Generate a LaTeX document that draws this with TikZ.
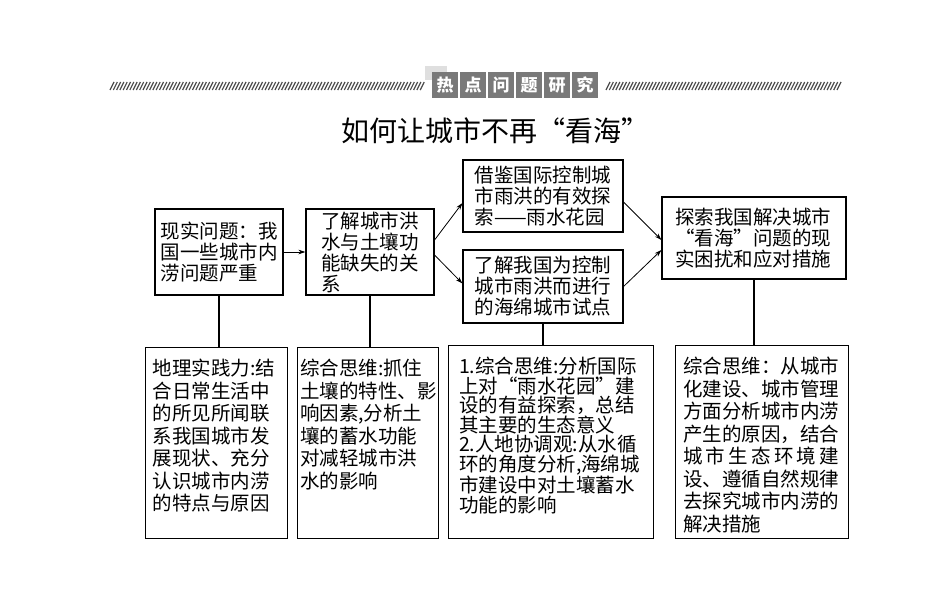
\documentclass[tikz,border=0pt]{standalone}
\usepackage{fontspec}
\newfontfamily\cjk{Noto Sans CJK SC}
\usetikzlibrary{arrows.meta}

\begin{document}
\begin{tikzpicture}[x=1pt, y=-1pt,
    box/.style={draw, line width=1.1pt, align=left, inner sep=0pt,
      font=\cjk\fontsize{19.5}{21}\selectfont},
    detail/.style={box, anchor=north west, inner ysep=4pt,
      text height=24pt, text depth=#1},
    arr/.style={-{Stealth[length=7pt,width=4.5pt]}, line width=0.8pt},
    hatch/.style={gray!60!black, line width=1.2pt},
    tag/.style={fill=gray!95!black, text=white, minimum size=26pt,
      inner sep=0pt, font=\cjk\bfseries\fontsize{17}{17}\selectfont}]
  \useasboundingbox (0,0) rectangle (950,594);

  % header band
  \foreach \i in {0,...,94}
    \draw[hatch] (110+3.3*\i,90) -- ++(4,-8);
  \foreach \i in {0,...,70}
    \draw[hatch] (606+3.3*\i,90) -- ++(4,-8);
  \fill[gray!25] (425,66) rectangle (447,80);
  \foreach \c [count=\i] in {热,点,问,题,研,究}
    \node[tag] (tag\i) at (445+28*\i-28,85) {\c};
  \node[font=\cjk\fontsize{28}{32}\selectfont] (title) at (495,131)
    {如何让城市不再“看海”};

  % top row
  \node[box, minimum width=128pt, minimum height=86pt, text width=117pt]
    (issue) at (219,252) {现实问题：我\\国一些城市内\\涝问题严重};
  \node[box, minimum width=128pt, minimum height=86pt, text width=98pt]
    (soil) at (370,252) {了解城市洪\\水与土壤功\\能缺失的关\\系};
  \node[box, minimum width=160pt, minimum height=72pt, text width=137pt]
    (garden) at (543,196) {借鉴国际控制城\\市雨洪的有效探\\索——雨水花园};
  \node[box, minimum width=160pt, minimum height=73pt, text width=137pt]
    (sponge) at (543,286.5) {了解我国为控制\\城市雨洪而进行\\的海绵城市试点};
  \node[box, minimum width=184pt, minimum height=82pt, text width=158pt]
    (measure) at (754,238) {探索我国解决城市\\“看海”问题的现\\实困扰和应对措施};

  % bottom row
  \node[detail=159pt, minimum width=142pt, text width=128pt,
    font=\cjk\fontsize{19.5}{22.5}\selectfont] (practice) at (145,347)
    {地理实践力:结\\合日常生活中\\的所见所闻联\\系我国城市发\\展现状、充分\\认识城市内涝\\的特点与原因};
  \node[detail=159pt, minimum width=141pt, text width=136pt,
    font=\cjk\fontsize{19.5}{22.5}\selectfont] (think) at (297,347)
    {综合思维:抓住\\土壤的特性、影\\响因素,分析土\\壤的蓄水功能\\对减轻城市洪\\水的影响};
  \node[detail=161pt, minimum width=205pt, text width=184pt,
    font=\cjk\fontsize{19.5}{19.6}\selectfont] (harmony) at (448,345)
    {1.综合思维:分析国际\\上对“雨水花园”建\\设的有益探索，总结\\其主要的生态意义\\2.人地协调观:从水循\\环的角度分析,海绵城\\市建设中对土壤蓄水\\功能的影响};
  \node[detail=161pt, minimum width=173pt, text width=158pt,
    font=\cjk\fontsize{19.5}{22.5}\selectfont] (cause) at (675,345)
    {综合思维：从城市\\化建设、城市管理\\方面分析城市内涝\\产生的原因，结合\\\makebox[156pt][s]{城\hfill 市\hfill 生\hfill 态\hfill 环\hfill 境\hfill 建}\\设、遵循自然规律\\去探究城市内涝的\\解决措施};

  % connectors
  \draw[arr] (issue) -- (soil);
  \draw[arr] ([yshift=12pt]soil.east) -- ([yshift=-7pt]garden.west);
  \draw[arr] ([yshift=-3pt]soil.east) -- ([yshift=3pt]sponge.west);
  \draw[arr] ([yshift=-6pt]garden.east) -- ([yshift=-2pt]measure.west);
  \draw[arr] (sponge.east) -- ([yshift=-12pt]measure.west);
  \foreach \a/\b in {issue/practice, soil/think, sponge/harmony, measure/cause}
    \draw[line width=1.1pt] (\a.south) -- (\a.south |- \b.north);
\end{tikzpicture}
\end{document}
